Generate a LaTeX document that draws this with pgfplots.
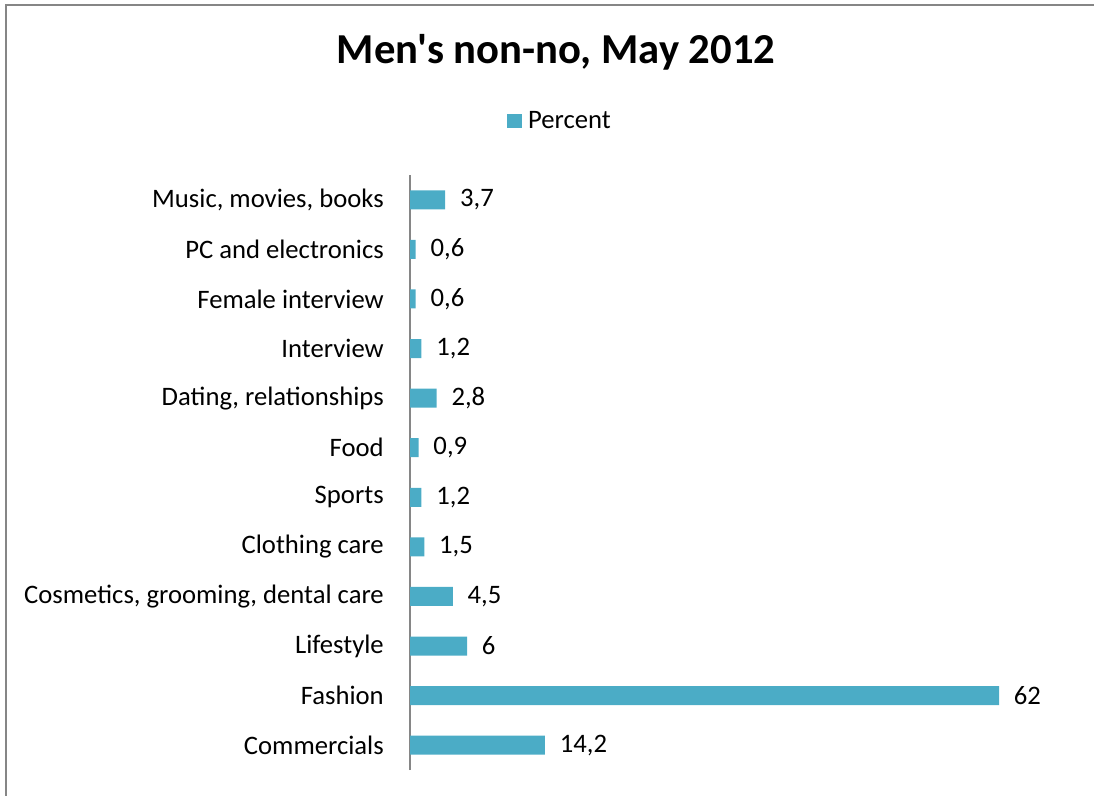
\documentclass[border=0pt]{standalone}
\usepackage{pgfplots}
\pgfplotsset{compat=1.18}
\usepackage{fontspec}
\setmainfont{Carlito}
\newfontfamily\titlefont{Carlito}
\definecolor{barc}{RGB}{75,172,198}
\definecolor{framec}{RGB}{134,134,134}
\begin{document}
\begin{tikzpicture}
\clip (0,0) rectangle (820.5pt,-596.25pt);
\draw[framec, line width=1.5pt] (4.5pt,-700pt) -- (4.5pt,-3.75pt) -- (900pt,-3.75pt);
\node[font=\titlefont\fontsize{32}{36}\selectfont\bfseries] at (417pt,-39pt) {Men's non-no, May 2012};
\begin{axis}[
  at={(307.5pt,-577.5pt)}, anchor=south west,
  scale only axis, width=498.75pt, height=446.25pt,
  xmin=0, xmax=70, ymin=-0.5, ymax=11.5,
  axis y line=left, axis x line=none,
  y axis line style={draw=framec, line width=1.5pt, -},
  ytick={0,...,11},
  yticklabels={Commercials, Fashion, Lifestyle, {Cosmetics, grooming, dental care}, Clothing care, Sports, Food, {Dating, relationships}, Interview, Female interview, PC and electronics, {Music, movies, books}},
  major tick length=0pt, ytick style={draw=none},
  yticklabel style={anchor=east, inner sep=0pt, xshift=-19.5pt, font=\fontsize{20}{22}\selectfont},
  xbar, bar width=14.25pt, bar shift=0pt,
  clip=false,
  /pgf/number format/assume math mode=true,
  nodes near coords={\pgfmathprintnumber[use comma]{\pgfplotspointmeta}},
  nodes near coords style={anchor=west, inner sep=0pt, xshift=11pt, font=\fontsize{20}{22}\selectfont, black},
  legend style={at={(rel axis cs:0.2256,1.0908)}, anchor=center, draw=none, fill=none, font=\fontsize{20}{22}\selectfont, inner sep=0pt, /tikz/every odd column/.append style={column sep=3pt}},
  legend image code/.code={\fill[barc] (0pt,-5.6pt) rectangle (11.25pt,5.6pt);},
]
\addplot[fill=barc, draw=none] coordinates {(14.2,0) (62,1) (6,2) (4.5,3) (1.5,4) (1.2,5) (0.9,6) (2.8,7) (1.2,8) (0.6,9) (0.6,10) (3.7,11)};
\addlegendentry{Percent}
\end{axis}
\end{tikzpicture}
\end{document}
